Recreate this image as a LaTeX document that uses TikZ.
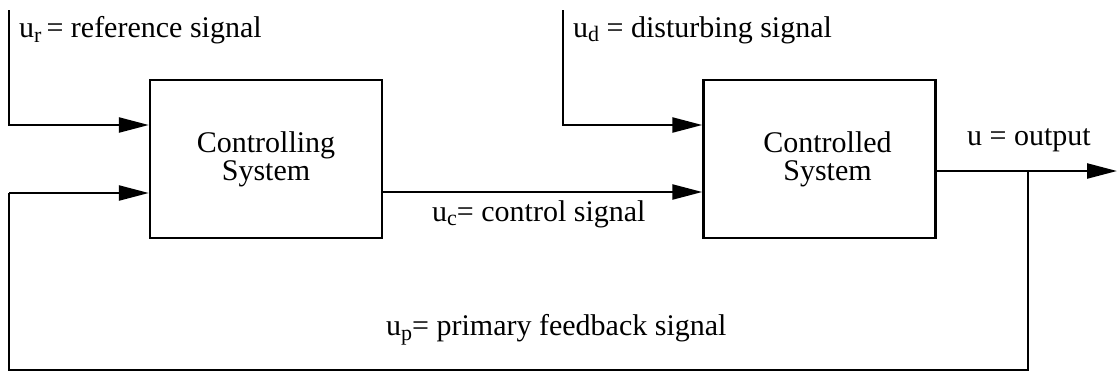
\documentclass[tikz,border=0pt]{standalone}
\usepackage{fontspec}
\setmainfont{Liberation Serif}
\usetikzlibrary{arrows.meta}
\newcommand{\lowidx}[1]{\raisebox{-0.35ex}{\fontsize{22}{22}\selectfont #1}}
\begin{document}
\begin{tikzpicture}[x=1pt,y=-1pt,
  every node/.style={font=\fontsize{30}{34}\selectfont},
  blk/.style={draw,line width=2.4pt,minimum width=232pt,minimum height=158pt,align=center,inner sep=0pt},
  lbl/.style={inner sep=0pt,anchor=west},
  wire/.style={line width=2.4pt},
  arr/.style={wire,-{Triangle[length=30pt,width=15pt]}}]
\useasboundingbox (0,0) rectangle (1117,373);
\node[blk] (ctl) at (266,159) {Controlling\\[-6pt]System};
\node[blk] (sys) at (819.5,159) {\hspace*{16pt}Controlled\\[-6pt]\hspace*{16pt}System};
\coordinate (ur) at (9,10);
\coordinate (ud) at (563,10);
\coordinate (out) at (1117,171);
\coordinate (br) at (1028,171);
\coordinate (fbl) at (9,370);
\node[lbl] (lur) at (19,30) {u\lowidx{r}\,= reference signal};
\node[lbl] (lud) at (573,30) {u\lowidx{d} = disturbing signal};
\node[lbl] (luc) at (432,214) {u\lowidx{c}= control signal};
\node[lbl] (lu) at (967,140) {u = output};
\node[lbl] (lup) at (386,330) {u\lowidx{p}= primary feedback signal};
\draw[arr] (ur) |- ([yshift=34pt]ctl.west);
\draw[arr] (ud) |- ([yshift=34pt]sys.west);
\draw[arr] ([yshift=-33pt]ctl.east) -- ([yshift=-33pt]sys.west);
\draw[arr] (sys.east |- out) -- (out);
\draw[wire] (br) -- (br |- fbl) -- (fbl) -- ([yshift=-34pt]fbl |- ctl.west);
\draw[arr] (fbl |- 0,193) -- ([yshift=-34pt]ctl.west);
\end{tikzpicture}
\end{document}
